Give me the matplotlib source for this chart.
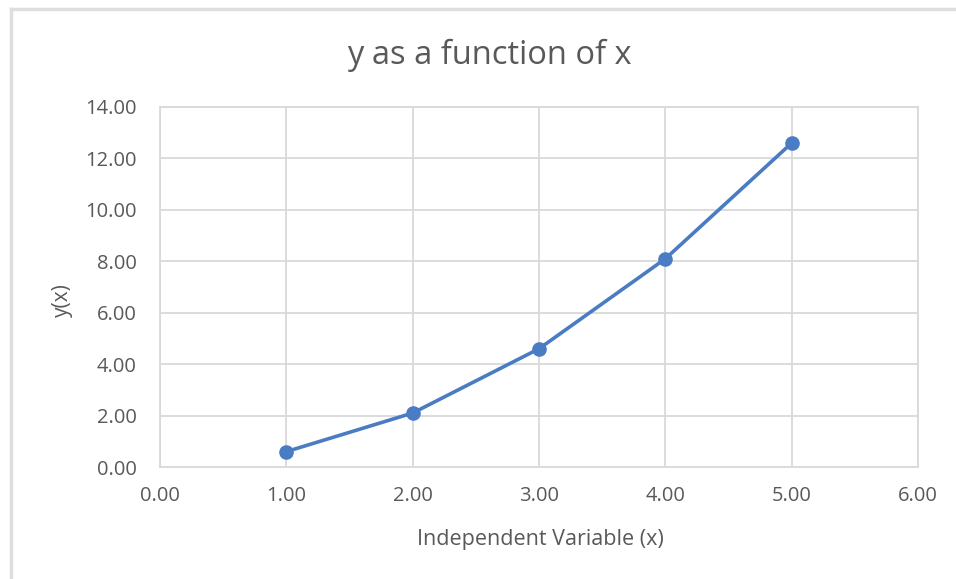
import numpy as np
import matplotlib
matplotlib.use('Agg')
import matplotlib.pyplot as plt
from matplotlib.lines import Line2D

plt.rcParams['font.family'] = ['Open Sans', 'DejaVu Sans']

x_vals = [1.0, 2.0, 3.0, 4.0, 5.0]
y_vals = [0.6, 2.1, 4.6, 8.1, 12.6]
x_ticks = [0, 1, 2, 3, 4, 5, 6]
y_ticks = [0, 2, 4, 6, 8, 10, 12, 14]

BLUE = '#4a7cc4'
GRID = '#d9d9d9'
TXT = '#595959'

fig = plt.figure(figsize=(9.56, 5.79), dpi=100)
ax = fig.add_axes([0.1674, 0.1934, 0.7929, 0.6218])

ax.plot(x_vals, y_vals, color=BLUE, linewidth=2.6, marker='o',
        markersize=9.5, solid_capstyle='round')

ax.set_xlim(0, 6)
ax.set_ylim(0, 14)
ax.set_xticks(x_ticks)
ax.set_yticks(y_ticks)
ax.set_xticklabels([f'{v:.2f}' for v in x_ticks])
ax.set_yticklabels([f'{v:.2f}' for v in y_ticks])
ax.tick_params(axis='both', length=0, labelsize=14.5, labelcolor=TXT)
ax.tick_params(axis='x', pad=14)
ax.tick_params(axis='y', pad=17)
ax.grid(True, color=GRID, linewidth=1.3)
ax.set_axisbelow(True)
for s in ax.spines.values():
    s.set_color(GRID)
    s.set_linewidth(1.3)

fig.text(0.512, 0.905, 'y as a function of x', ha='center', va='center',
         fontsize=23.5, color=TXT)
fig.text(0.565, 0.068, 'Independent Variable (x)', ha='center', va='center',
         fontsize=15.5, color=TXT)
fig.text(0.065, 0.482, 'y(x)', ha='center', va='center', rotation=90,
         fontsize=15, color=TXT)

# chart border (only top and left visible)
fig.add_artist(Line2D([0.011, 0.011], [0.0, 0.985], color='#dedede', linewidth=2.5))
fig.add_artist(Line2D([0.011, 1.0], [0.985, 0.985], color='#dedede', linewidth=2.5))

fig.savefig('out.png', dpi=100, facecolor='white')
plt.close(fig)
